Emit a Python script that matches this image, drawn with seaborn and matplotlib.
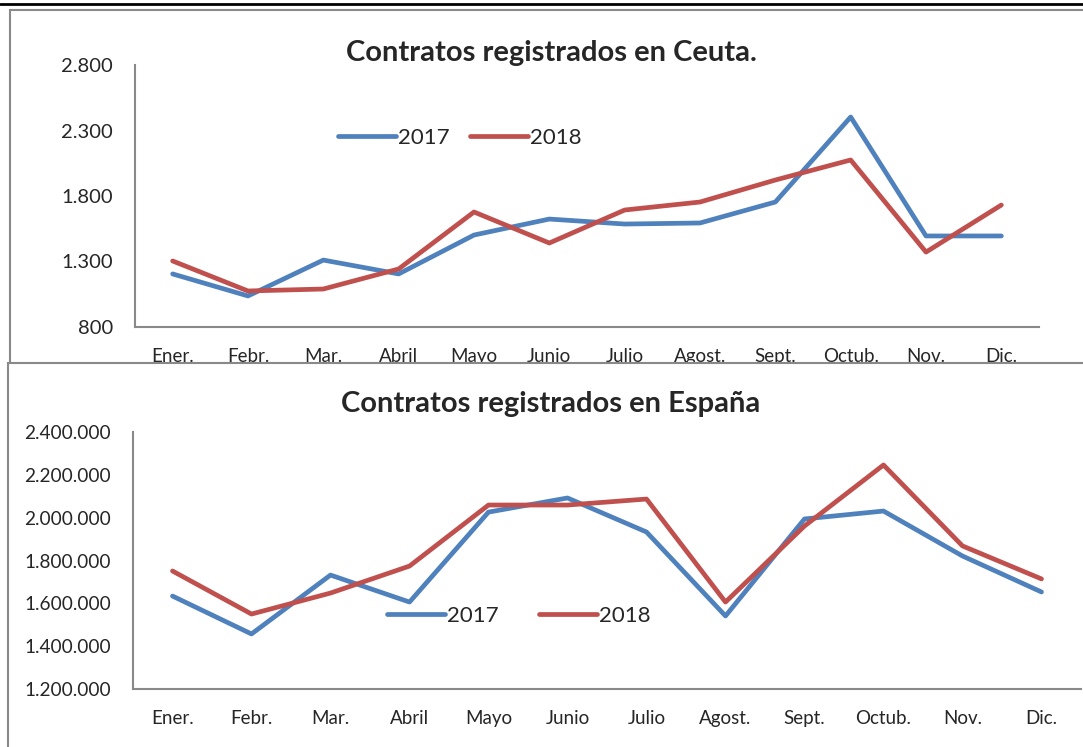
import pandas as pd
import matplotlib
matplotlib.use("Agg")
import matplotlib.pyplot as plt
import seaborn as sns
from matplotlib.patches import Rectangle
from matplotlib.lines import Line2D

meses = ['Ener.', 'Febr.', 'Mar.', 'Abril', 'Mayo', 'Junio', 'Julio',
         'Agost.', 'Sept.', 'Octub.', 'Nov.', 'Dic.']
anios = ['2017', '2018']

ceuta_2017 = [1205, 1037, 1311, 1205, 1502, 1624, 1586, 1594, 1754, 2403, 1495, 1495]
ceuta_2018 = [1304, 1075, 1090, 1243, 1678, 1441, 1693, 1754, 1922, 2075, 1372, 1731]

espana_2017 = [1634000, 1457000, 1732000, 1606000, 2026000, 2092000, 1933000,
               1541000, 1994000, 2031000, 1821000, 1653000]
espana_2018 = [1751000, 1550000, 1648000, 1774000, 2059000, 2059000, 2087000,
               1606000, 1961000, 2246000, 1868000, 1714000]

ceuta_ticks = [800, 1300, 1800, 2300, 2800]
espana_ticks = [1200000, 1400000, 1600000, 1800000, 2000000, 2200000, 2400000]

colores = {'2017': '#4F81BD', '2018': '#C0504D'}
gris = '#898989'

W, H = 1083, 747


def fx(px):
    return px / W


def fy(py):
    return 1 - py / H


def largo(serie_a, serie_b):
    df = pd.DataFrame({'mes': meses * 2,
                       'pos': list(range(12)) * 2,
                       'valor': serie_a + serie_b,
                       'anio': [anios[0]] * 12 + [anios[1]] * 12})
    return df


def miles(v):
    return f"{v:,.0f}".replace(',', '.')


sns.set_style('white')
plt.rcParams['font.family'] = ['Lato', 'DejaVu Sans']

fig = plt.figure(figsize=(W / 100, H / 100), dpi=100)

# marcos
fig.add_artist(Line2D([0, 1], [fy(3.5), fy(3.5)], transform=fig.transFigure,
                      color='black', linewidth=2, zorder=0.5))
fig.add_artist(Rectangle((fx(10), fy(420)), 1.2, fy(10) - fy(420),
                         transform=fig.transFigure, facecolor='none',
                         edgecolor=gris, linewidth=1.5, zorder=0.5))
fig.add_artist(Rectangle((fx(8), -0.2), 1.2, fy(363) + 0.2,
                         transform=fig.transFigure, facecolor='white',
                         edgecolor=gris, linewidth=1.5, zorder=1))

paneles = [
    dict(df=largo(ceuta_2017, ceuta_2018), ticks=ceuta_ticks,
         rect=[fx(135), fy(327), fx(1039) - fx(135), fy(65) - fy(327)],
         titulo='Contratos registrados en Ceuta.', ty=53,
         leg=(460, 138), colsp=0.9, z=0, ytick=14.5, xtick=13.5),
    dict(df=largo(espana_2017, espana_2018), ticks=espana_ticks,
         rect=[fx(133), fy(689), fx(1081) - fx(133), fy(432) - fy(689)],
         titulo='Contratos registrados en España', ty=404,
         leg=(519, 616), colsp=1.8, z=2, ytick=13.7, xtick=13.5),
]

for p in paneles:
    ax = fig.add_axes(p['rect'], zorder=p['z'])
    ax.set_facecolor('none')
    sns.lineplot(data=p['df'], x='pos', y='valor', hue='anio', palette=colores,
                 linewidth=3.4, ax=ax, legend=False)
    ax.set_xlim(-0.5, 11.5)
    ax.set_ylim(p['ticks'][0], p['ticks'][-1])
    ax.set_yticks(p['ticks'])
    ax.set_yticklabels([miles(t) for t in p['ticks']], fontsize=p['ytick'])
    ax.set_xticks(range(12))
    ax.set_xticklabels(meses, fontsize=p['xtick'])
    ax.tick_params(axis='y', length=0, pad=16)
    ax.tick_params(axis='x', length=0, pad=15)
    ax.set_xlabel('')
    ax.set_ylabel('')
    for s in ['top', 'right']:
        ax.spines[s].set_visible(False)
    for s in ['left', 'bottom']:
        ax.spines[s].set_color(gris)
        ax.spines[s].set_linewidth(1.5)

    handles = [Line2D([], [], color=colores[a], linewidth=3.4,
                      solid_capstyle='round') for a in anios]
    ax.legend(handles, anios, loc='center', ncol=2, frameon=False,
              fontsize=16, handlelength=2.6, handletextpad=0.1,
              columnspacing=p['colsp'],
              bbox_to_anchor=(fx(p['leg'][0]), fy(p['leg'][1])),
              bbox_transform=fig.transFigure)

    fig.text(fx(551), fy(p['ty']), p['titulo'], ha='center', va='center',
             fontsize=21, fontweight='bold', zorder=3)

fig.savefig('out.png', dpi=100)
